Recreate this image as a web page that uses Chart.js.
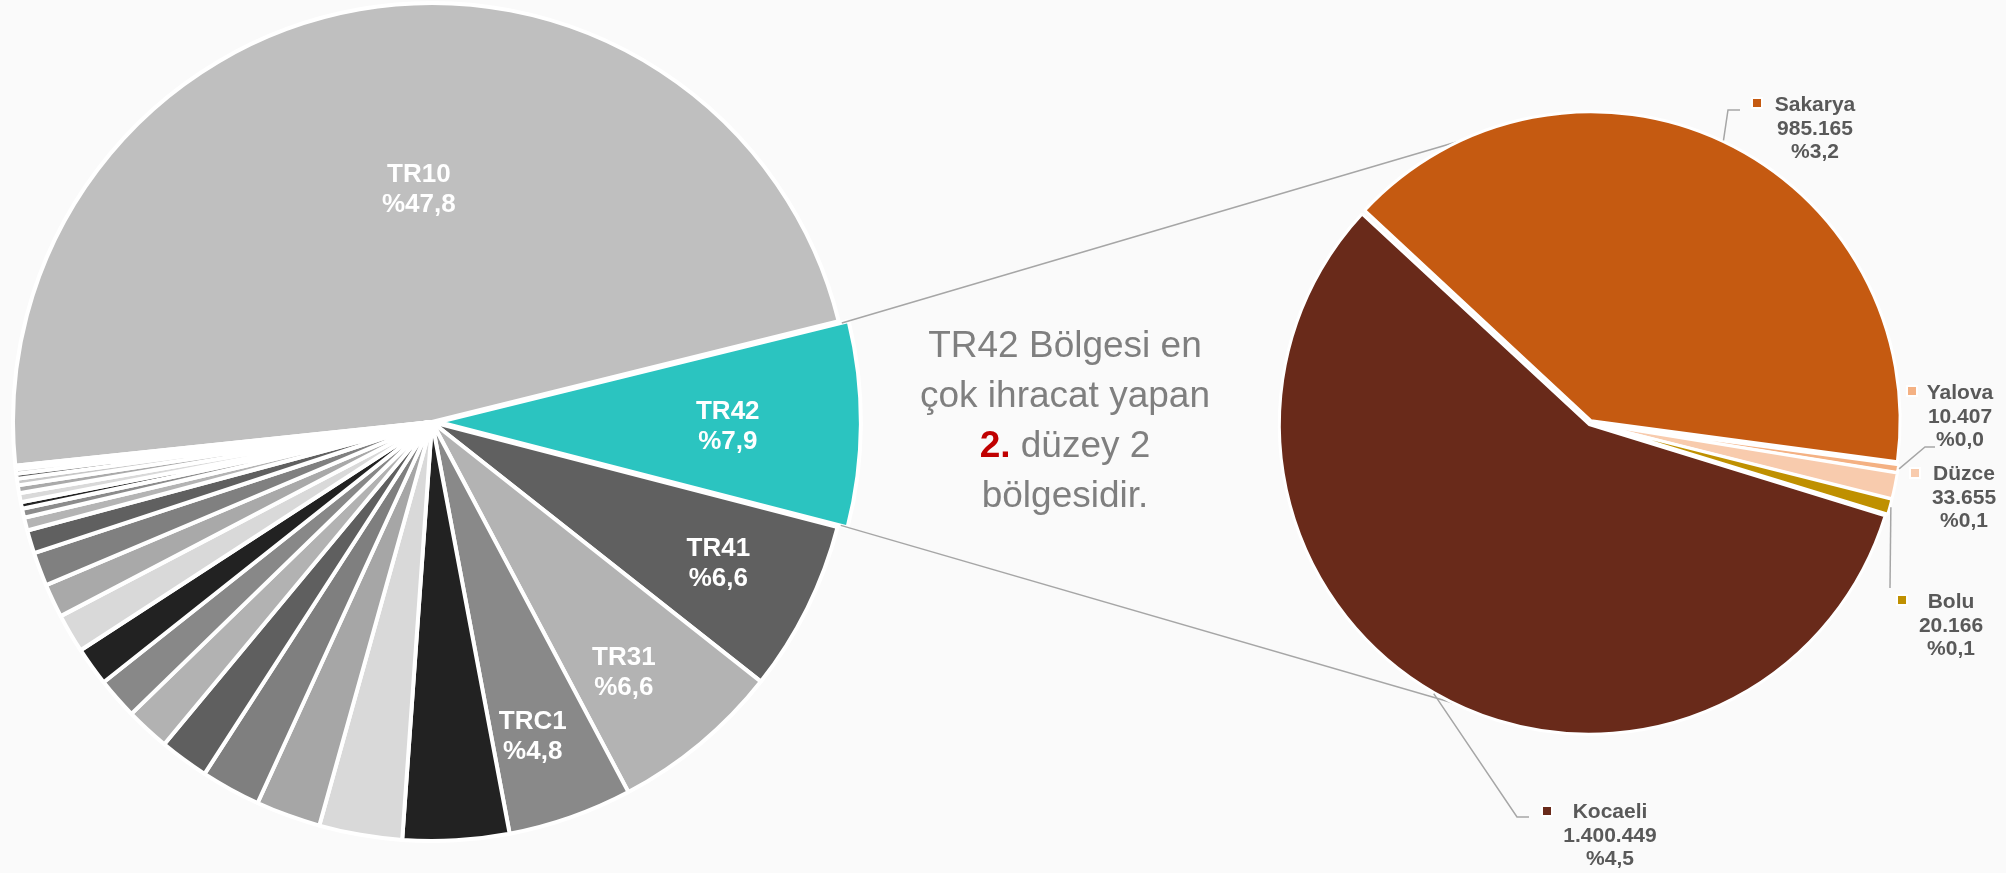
<!DOCTYPE html>
<html>
<head>
<meta charset="utf-8">
<script src="https://cdn.jsdelivr.net/npm/chart.js@4.4.0/dist/chart.umd.min.js"></script>
<style>
  body { margin: 0; background: #fafafa; }
  #wrap { position: relative; width: 2006px; height: 873px; overflow: hidden; }
  #wrap canvas { position: absolute; left: 0; top: 0; }
  #note {
    position: absolute; left: 815px; top: 320px; width: 500px;
    text-align: center; color: #7f7f7f;
    font: 37px/50px "Liberation Sans", Arial, sans-serif;
  }
  #note b { color: #c00000; }
</style>
</head>
<body>
<div id="wrap">
  <canvas id="leftPie" width="2006" height="873"></canvas>
  <canvas id="rightPie" width="2006" height="873"></canvas>
  <div id="note">TR42 Bölgesi en<br>çok ihracat yapan<br><b>2.</b> düzey 2<br>bölgesidir.</div>
</div>
<script>
// left pie: share of exports by level-2 region (%)
const regionLabels = ['TR10', 'TR42', 'TR41', 'TR31', 'TRC1', 'TR51', 'TR62', 'TR21', 'TR63', 'TR32',
  'TR22', 'TR52', 'TR72', 'TR61', 'TR33', 'TR71', 'TR81', 'TR90', 'TR83', 'TRC2',
  'TR82', 'TRC3', 'TRB1', 'TRA1', 'TRB2', 'TRA2'];
const regionShares = [47.8, 7.9, 6.6, 6.6, 4.8, 4.1, 3.2, 2.5, 2.3, 1.9,
  1.7, 1.6, 1.5, 1.5, 1.3, 1.3, 0.9, 0.5, 0.35, 0.25,
  0.35, 0.3, 0.25, 0.2, 0.17, 0.13];
const regionColors = ['#bfbfbf', '#2bc4c0', '#606060', '#b3b3b3', '#898989', '#222222', '#d9d9d9', '#a6a6a6', '#7f7f7f', '#5f5f5f',
  '#b2b2b2', '#888888', '#222222', '#d9d9d9', '#a9a9a9', '#808080', '#606060', '#b4b4b4', '#8c8c8c', '#222222',
  '#d9d9d9', '#aaaaaa', '#c8c8c8', '#606060', '#b0b0b0', '#888888'];
const labelledRegions = 5;

// right pie: TR42 provinces, export value and share of total
const provinceLabels = ['Sakarya', 'Yalova', 'Düzce', 'Bolu', 'Kocaeli'];
const provinceExports = [985165, 10407, 33655, 20166, 1400449];
const provinceShares = [3.2, 0.0, 0.1, 0.1, 4.5];
const provinceColors = ['#c55a11', '#f4b183', '#f8cbad', '#bf9000', '#692a1a'];

// layout only
const regionOffsets = regionLabels.map((l, i) => i === 1 ? 26 : 0);
const regionLabelPos = [[6.7, 0.554], [0.6, 0.706], [0, 0.763], [2.4, 0.753], [1.6, 0.79]]; // [angle shift deg, radius fraction]
const provinceLabelPos = [
  { key: [1757, 103], x: 1815, y: 111, leader: [[1728, 110], [1740, 110]] },
  { key: [1912, 391], x: 1960, y: 399, leader: [[1925, 447], [1935, 447]] },
  { key: [1915, 473], x: 1964, y: 480, leader: null },
  { key: [1902, 600], x: 1951, y: 608, leader: [[1890, 588]] },
  { key: [1547, 811], x: 1610, y: 818, leader: [[1517, 817], [1529, 817]] }
];
const connectorAngles = [249.8, 110.6];

const fmtThousands = v => String(v).replace(/\B(?=(\d{3})+(?!\d))/g, '.');
const fmtPct = v => '%' + v.toFixed(1).replace('.', ',');

// same shift Chart.js applies to an arc with an offset
function arcShift(arc) {
  const off = (arc.options.offset || 0) / 4;
  const mid = (arc.startAngle + arc.endAngle) / 2;
  const fix = 1 - Math.sin(Math.min(Math.PI, arc.circumference || 0));
  const d = off * (1 + fix);
  return { x: Math.cos(mid) * d, y: Math.sin(mid) * d };
}

const regionLabelPlugin = {
  id: 'regionLabels',
  afterDatasetsDraw(chart) {
    const ctx = chart.ctx;
    const arcs = chart.getDatasetMeta(0).data;
    ctx.save();
    ctx.font = 'bold 26px "Liberation Sans", Arial, sans-serif';
    ctx.fillStyle = '#ffffff';
    ctx.textAlign = 'center';
    ctx.textBaseline = 'middle';
    for (let i = 0; i < labelledRegions; i++) {
      const a = arcs[i];
      const [shift, frac] = regionLabelPos[i];
      const mid = (a.startAngle + a.endAngle) / 2 + shift * Math.PI / 180;
      const r = a.outerRadius * frac;
      const x = a.x + Math.cos(mid) * r;
      const y = a.y + Math.sin(mid) * r;
      ctx.fillText(regionLabels[i], x, y - 15);
      ctx.fillText(fmtPct(regionShares[i]), x, y + 15);
    }
    ctx.restore();
  }
};

const connectorPlugin = {
  id: 'connectors',
  beforeDatasetsDraw(chart) {
    const ctx = chart.ctx;
    const tr42 = leftChart.getDatasetMeta(0).data[1];
    const s = arcShift(tr42);
    const r1 = tr42.outerRadius - 7;
    const big = chart.getDatasetMeta(0).data[0];
    const r2 = big.outerRadius;
    const from = [tr42.startAngle, tr42.endAngle];
    ctx.save();
    ctx.strokeStyle = '#a6a6a6';
    ctx.lineWidth = 1.5;
    for (let k = 0; k < 2; k++) {
      const t = connectorAngles[k] * Math.PI / 180;
      ctx.beginPath();
      ctx.moveTo(tr42.x + s.x + Math.cos(from[k]) * r1, tr42.y + s.y + Math.sin(from[k]) * r1);
      ctx.lineTo(big.x + Math.cos(t) * r2, big.y + Math.sin(t) * r2);
      ctx.stroke();
    }
    ctx.restore();
  }
};

const provinceLabelPlugin = {
  id: 'provinceLabels',
  afterDatasetsDraw(chart) {
    const ctx = chart.ctx;
    const arcs = chart.getDatasetMeta(0).data;
    ctx.save();
    arcs.forEach((a, i) => {
      const pos = provinceLabelPos[i];
      const s = arcShift(a);
      const mid = (a.startAngle + a.endAngle) / 2;
      if (pos.leader) {
        ctx.strokeStyle = '#a6a6a6';
        ctx.lineWidth = 1.5;
        ctx.beginPath();
        ctx.moveTo(a.x + s.x + Math.cos(mid) * (a.outerRadius + 1), a.y + s.y + Math.sin(mid) * (a.outerRadius + 1));
        pos.leader.forEach(p => ctx.lineTo(p[0], p[1]));
        ctx.stroke();
      }
      ctx.fillStyle = '#ffffff';
      ctx.fillRect(pos.key[0] - 6, pos.key[1] - 6, 12, 12);
      ctx.fillStyle = provinceColors[i];
      ctx.fillRect(pos.key[0] - 4, pos.key[1] - 4, 8, 8);
      ctx.font = 'bold 21px "Liberation Sans", Arial, sans-serif';
      ctx.fillStyle = '#595959';
      ctx.textAlign = 'center';
      ctx.textBaseline = 'alphabetic';
      ctx.fillText(provinceLabels[i], pos.x, pos.y);
      ctx.fillText(fmtThousands(provinceExports[i]), pos.x, pos.y + 23.5);
      ctx.fillText(fmtPct(provinceShares[i]), pos.x, pos.y + 47);
    });
    ctx.restore();
  }
};

const leftChart = new Chart(document.getElementById('leftPie'), {
  type: 'pie',
  data: {
    labels: regionLabels,
    datasets: [{
      data: regionShares,
      backgroundColor: regionColors,
      borderColor: '#ffffff',
      borderWidth: 4,
      offset: regionOffsets,
      radius: 419
    }]
  },
  options: {
    responsive: false,
    animation: false,
    rotation: 264,
    layout: { padding: { left: 2, right: 1144, top: 0, bottom: 29 } },
    plugins: { legend: { display: false }, tooltip: { enabled: false } }
  },
  plugins: [regionLabelPlugin]
});

const rightChart = new Chart(document.getElementById('rightPie'), {
  type: 'pie',
  data: {
    labels: provinceLabels,
    datasets: [{
      data: provinceExports,
      backgroundColor: provinceColors,
      borderColor: '#ffffff',
      borderWidth: 3,
      offset: [10, 7, 7, 7, 7],
      radius: 308
    }]
  },
  options: {
    responsive: false,
    animation: false,
    rotation: -47.1,
    layout: { padding: { left: 1270, right: 96, top: 103, bottom: 130 } },
    plugins: { legend: { display: false }, tooltip: { enabled: false } }
  },
  plugins: [connectorPlugin, provinceLabelPlugin]
});
</script>
</body>
</html>
